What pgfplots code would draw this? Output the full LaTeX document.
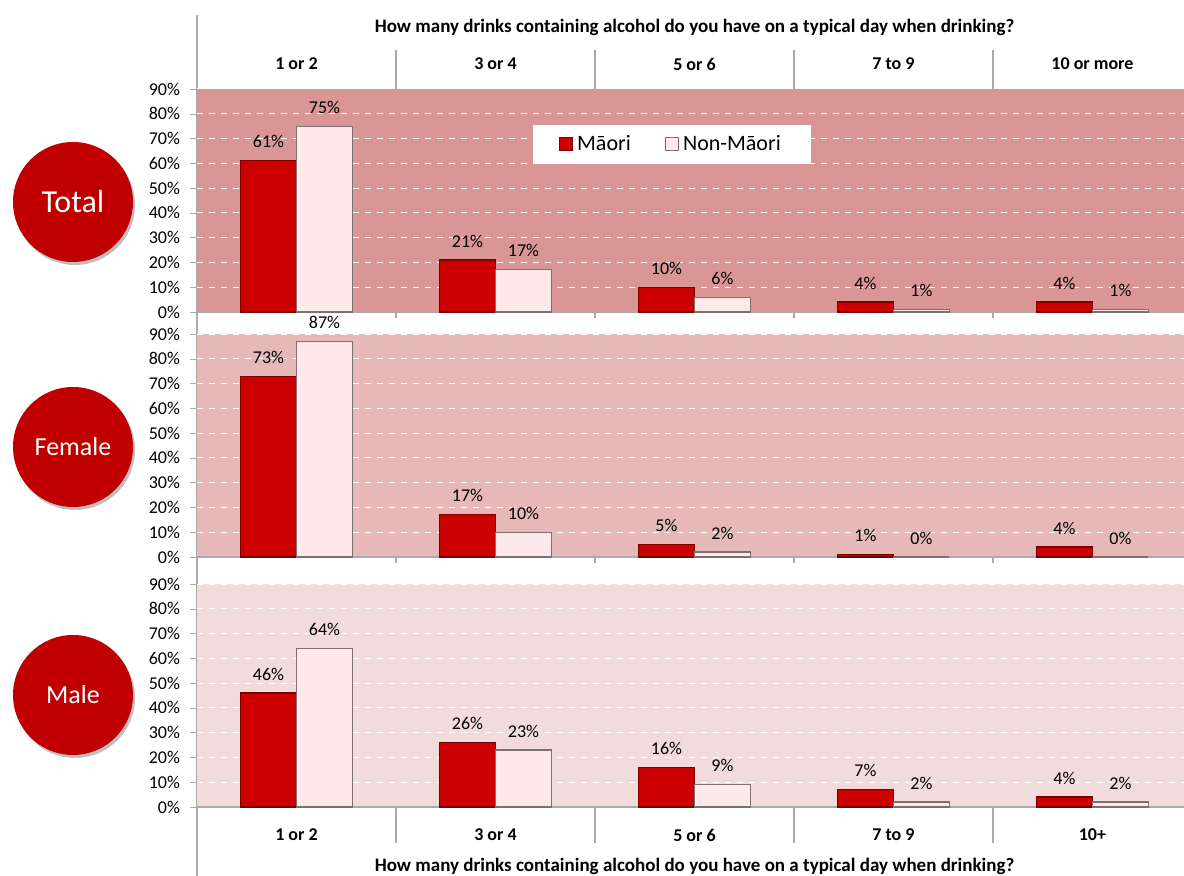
\documentclass[border=0pt]{standalone}
\usepackage{fontspec}
\setmainfont{Carlito}
\usepackage{pgfplots}
\pgfplotsset{compat=1.18}
\definecolor{maori}{RGB}{204,0,0}
\definecolor{maoriedge}{RGB}{125,0,0}
\definecolor{nonmaori}{RGB}{253,233,233}
\definecolor{nonedge}{RGB}{125,112,112}
\definecolor{bgT}{HTML}{D99694}
\definecolor{bgF}{HTML}{E6B9B8}
\definecolor{bgM}{HTML}{F2DCDB}
\definecolor{circ}{HTML}{C00000}
\definecolor{axgray}{RGB}{170,170,170}

\tikzset{lab/.style={font=\bfseries\fontsize{9}{10}\selectfont},
  ttl/.style={font=\bfseries\fontsize{9.5}{11}\selectfont}}
\pgfplotsset{
 panel/.style={
  scale only axis, width=493.5pt, height=111.5pt,
  anchor=south west,
  xmin=-0.5, xmax=4.46, ymin=0, ymax=90,
  xtick=\empty,
  ytick={0,10,...,90},
  yticklabels={0\%,10\%,20\%,30\%,40\%,50\%,60\%,70\%,80\%,90\%},
  yticklabel style={font=\fontsize{9}{10}\selectfont, text=black, xshift=-1.5pt},
  ymajorgrids, major grid style={white, dashed, line width=0.5pt},
  axis x line*=bottom, axis y line*=left,
  x axis line style={axgray, line width=0.8pt, -},
  y axis line style={draw=none},
  tick align=outside, major tick length=3.5pt, ytick style={axgray},
  clip=false,
  /pgf/number format/assume math mode=true,
 },
 mao/.style={ybar, bar width=0.28, bar shift=-0.14, fill=maori, draw=maoriedge, line width=0.6pt,
   nodes near coords={\pgfmathprintnumber{\pgfplotspointmeta}\%},
   every node near coord/.append style={font=\fontsize{9}{10}\selectfont, anchor=center, yshift=9.5pt, xshift=-14pt, text=black}},
 non/.style={ybar, bar width=0.28, bar shift=0.14, fill=nonmaori, draw=nonedge, line width=0.6pt,
   nodes near coords={\pgfmathprintnumber{\pgfplotspointmeta}\%},
   every node near coord/.append style={font=\fontsize{9}{10}\selectfont, anchor=center, yshift=9.5pt, xshift=14pt, text=black}},
}

\begin{document}
\begin{tikzpicture}
\path[use as bounding box] (0,0) rectangle (592pt,-438pt);
% left vertical line
\draw[axgray, line width=0.6pt] (98.5pt,-7.5pt) -- (98.5pt,-438pt);

% ---------- Total ----------
\begin{axis}[panel, at={(98.5pt,-156pt)}, axis background/.style={fill=bgT},
  legend style={at={(rel axis cs:0.340,0.8386)}, anchor=north west, legend columns=2,
    draw=white, fill=white, font=\fontsize{11}{13}\selectfont, inner xsep=13pt, inner ysep=3pt,
    /tikz/every even column/.append style={column sep=15pt}},
  legend cell align=left]
\addplot[mao, legend image code/.code={\fill[maori, draw=maoriedge] (0pt,-3pt) rectangle (6.5pt,3.5pt);}]
  coordinates {(0,61) (1,21) (2,10) (3,4) (4,4)};
\addlegendentry{Māori}
\addplot[non, legend image code/.code={\fill[nonmaori, draw=nonedge] (0pt,-3pt) rectangle (6.5pt,3.5pt);}]
  coordinates {(0,75) (1,17) (2,6) (3,1) (4,1)};
\addlegendentry{Non-Māori}
\pgfplotsinvokeforeach{0.5,1.5,2.5,3.5}{
  \draw[axgray, line width=0.6pt] (axis cs:#1,90) -- ([yshift=19.5pt]axis cs:#1,90);
  \draw[axgray, line width=0.6pt] (axis cs:#1,0) -- ([yshift=-3pt]axis cs:#1,0);
}
\node[lab] at ([yshift=12.5pt]axis cs:0,90) {1 or 2};
\node[lab] at ([yshift=12.5pt]axis cs:1,90) {3 or 4};
\node[lab] at ([yshift=12.5pt]axis cs:2,90) {5 or 6};
\node[lab] at ([yshift=12.5pt]axis cs:3,90) {7 to 9};
\node[lab] at ([yshift=12.5pt]axis cs:4,90) {10 or more};
\node[ttl] at ([yshift=31pt]axis cs:2,90)
  {How many drinks containing alcohol do you have on a typical day when drinking?};
\end{axis}

% ---------- Female ----------
\begin{axis}[panel, at={(98.5pt,-278.5pt)}, axis background/.style={fill=bgF}]
\addplot[mao] coordinates {(0,73) (1,17) (2,5) (3,1) (4,4)};
\addplot[non] coordinates {(0,87) (1,10) (2,2) (3,0) (4,0)};
\pgfplotsinvokeforeach{0.5,1.5,2.5,3.5}{
  \draw[axgray, line width=0.6pt] (axis cs:#1,0) -- ([yshift=-3pt]axis cs:#1,0);
}
\end{axis}

% ---------- Male ----------
\begin{axis}[panel, at={(98.5pt,-403.5pt)}, axis background/.style={fill=bgM}]
\addplot[mao] coordinates {(0,46) (1,26) (2,16) (3,7) (4,4)};
\addplot[non] coordinates {(0,64) (1,23) (2,9) (3,2) (4,2)};
\pgfplotsinvokeforeach{0.5,1.5,2.5,3.5}{
  \draw[axgray, line width=0.6pt] (axis cs:#1,0) -- ([yshift=-18pt]axis cs:#1,0);
}
\node[lab] at ([yshift=-14pt]axis cs:0,0) {1 or 2};
\node[lab] at ([yshift=-14pt]axis cs:1,0) {3 or 4};
\node[lab] at ([yshift=-14pt]axis cs:2,0) {5 or 6};
\node[lab] at ([yshift=-14pt]axis cs:3,0) {7 to 9};
\node[lab] at ([yshift=-14pt]axis cs:4,0) {10+};
\node[ttl] at ([yshift=-29.5pt]axis cs:2,0)
  {How many drinks containing alcohol do you have on a typical day when drinking?};
\end{axis}

% circles
\fill[black!25] (37.5pt,-102.5pt) circle (30pt);
\fill[circ] (36.5pt,-101pt) circle (30pt);
\node[white, font=\fontsize{16}{18}\selectfont] at (36.5pt,-101pt) {Total};
\fill[black!25] (37.5pt,-225pt) circle (30pt);
\fill[circ] (36.5pt,-223.5pt) circle (30pt);
\node[white, font=\fontsize{13}{15}\selectfont] at (36.5pt,-223.5pt) {Female};
\fill[black!25] (37.5pt,-349pt) circle (30pt);
\fill[circ] (36.5pt,-347.5pt) circle (30pt);
\node[white, font=\fontsize{13}{15}\selectfont] at (36.5pt,-347.5pt) {Male};
\end{tikzpicture}
\end{document}
